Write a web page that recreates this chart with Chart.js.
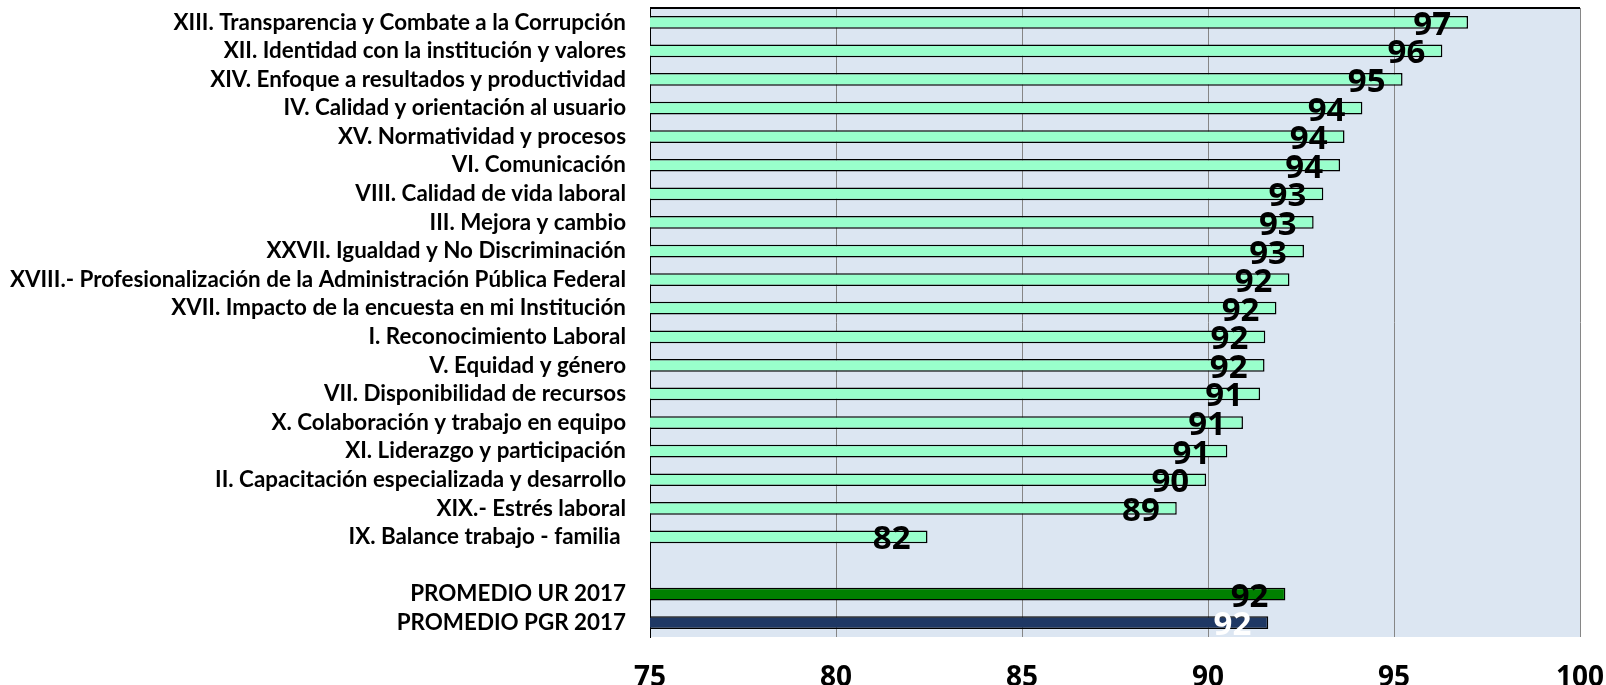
<!DOCTYPE html>
<html><head><meta charset="utf-8">
<script src="https://cdn.jsdelivr.net/npm/chart.js@4"></script>
<style>html,body{margin:0;padding:0;background:#fff}#wrap{width:1606px;height:685px}</style>
</head><body><div id="wrap"><canvas id="c" width="1606" height="685"></canvas></div>
<script>
const categories = [
  "XIII. Transparencia y Combate a la Corrupción",
  "XII. Identidad con la institución y valores",
  "XIV. Enfoque a resultados y productividad",
  "IV. Calidad y orientación al usuario",
  "XV. Normatividad y procesos",
  "VI. Comunicación",
  "VIII. Calidad de vida laboral",
  "III. Mejora y cambio",
  "XXVII. Igualdad y No Discriminación",
  "XVIII.- Profesionalización de la Administración Pública Federal",
  "XVII. Impacto de la encuesta en mi Institución",
  "I. Reconocimiento Laboral",
  "V. Equidad y género",
  "VII. Disponibilidad de recursos",
  "X. Colaboración y trabajo en equipo",
  "XI. Liderazgo y participación",
  "II. Capacitación especializada y desarrollo",
  "XIX.- Estrés laboral",
  "IX. Balance trabajo - familia ",
  "",
  "PROMEDIO UR 2017",
  "PROMEDIO PGR 2017"
];
const values = [96.99, 96.3, 95.23, 94.15, 93.67, 93.55, 93.1, 92.84, 92.58, 92.19, 91.84, 91.54, 91.52, 91.4, 90.94, 90.52, 89.95, 89.16, 82.46, null, 92.08, 91.62];
const shownLabels = ["97","96","95","94","94","94","93","93","93","92","92","92","92","91","91","91","90","89","82","","92","92"];
const MINT = "#99FFCC", UR = "#008000", PGR = "#1F3864";
const barColors = categories.map((c, i) => i === 20 ? UR : (i === 21 ? PGR : MINT));
const labelColors = categories.map((c, i) => i === 21 ? "#FFFFFF" : "#000000");
const xMin = 75, xMax = 100, xStep = 5;

// fit category font so the longest label spans like the reference
const mctx = document.createElement('canvas').getContext('2d');
mctx.font = 'bold 100px Lato';
const longest = categories.reduce((a, b) => b.length > a.length ? b : a, "");
const yFontSize = Math.round(100 * 616 / mctx.measureText(longest).width * 10) / 10;

const bgPlugin = {
  id: 'bg',
  beforeDraw(chart) {
    const {ctx, chartArea: a} = chart;
    ctx.save(); ctx.fillStyle = '#DCE6F2';
    ctx.fillRect(a.left, a.top, a.right - a.left, a.bottom - a.top);
    ctx.restore();
  },
  afterDraw(chart) {
    const {ctx, chartArea: a} = chart;
    ctx.save(); ctx.strokeStyle = '#000'; ctx.lineWidth = 2;
    ctx.beginPath(); ctx.moveTo(a.left, a.top); ctx.lineTo(a.right, a.top); ctx.stroke();
    ctx.restore();
  }
};
const labelPlugin = {
  id: 'vlabels',
  afterDatasetsDraw(chart) {
    const {ctx} = chart;
    const meta = chart.getDatasetMeta(0);
    ctx.save();
    ctx.font = 'bold 33px "Open Sans"';
    ctx.textAlign = 'right';
    ctx.textBaseline = 'alphabetic';
    meta.data.forEach((el, i) => {
      if (values[i] == null) return;
      ctx.fillStyle = labelColors[i];
      ctx.fillText(shownLabels[i], el.x - 17, el.y + 12.5);
    });
    ctx.restore();
  }
};

new Chart(document.getElementById('c'), {
  type: 'bar',
  data: {
    labels: categories,
    datasets: [{
      data: values,
      backgroundColor: barColors,
      borderColor: '#000000',
      borderWidth: 1.5,
      borderSkipped: false,
      barPercentage: 0.445,
      categoryPercentage: 1.0
    }]
  },
  options: {
    indexAxis: 'y',
    responsive: false,
    devicePixelRatio: 1,
    animation: false,
    layout: {padding: {top: 8, right: 26, left: 0, bottom: 0}},
    plugins: {legend: {display: false}, tooltip: {enabled: false}},
    scales: {
      x: {
        type: 'linear', min: xMin, max: xMax,
        grid: {color: '#868686', lineWidth: 1, drawTicks: false},
        border: {display: false},
        ticks: {stepSize: xStep, padding: 24, color: '#000', maxRotation: 0,
          font: {family: '"Open Sans"', weight: 'bold', size: 28}},
        afterFit(s) { s.height = 48; s.paddingLeft = 0; s.paddingRight = 0; s.paddingTop = 0; s.paddingBottom = 0; }
      },
      y: {
        grid: {display: false, drawTicks: false},
        border: {display: true, color: '#000', width: 1},
        ticks: {padding: 24, color: '#000', autoSkip: false,
          font: {family: 'Lato', weight: 'bold', size: yFontSize}},
        afterFit(s) { s.width = 650; s.paddingTop = 0; s.paddingBottom = 0; s.paddingLeft = 0; s.paddingRight = 0; }
      }
    }
  },
  plugins: [bgPlugin, labelPlugin]
});
</script>
</body></html>
